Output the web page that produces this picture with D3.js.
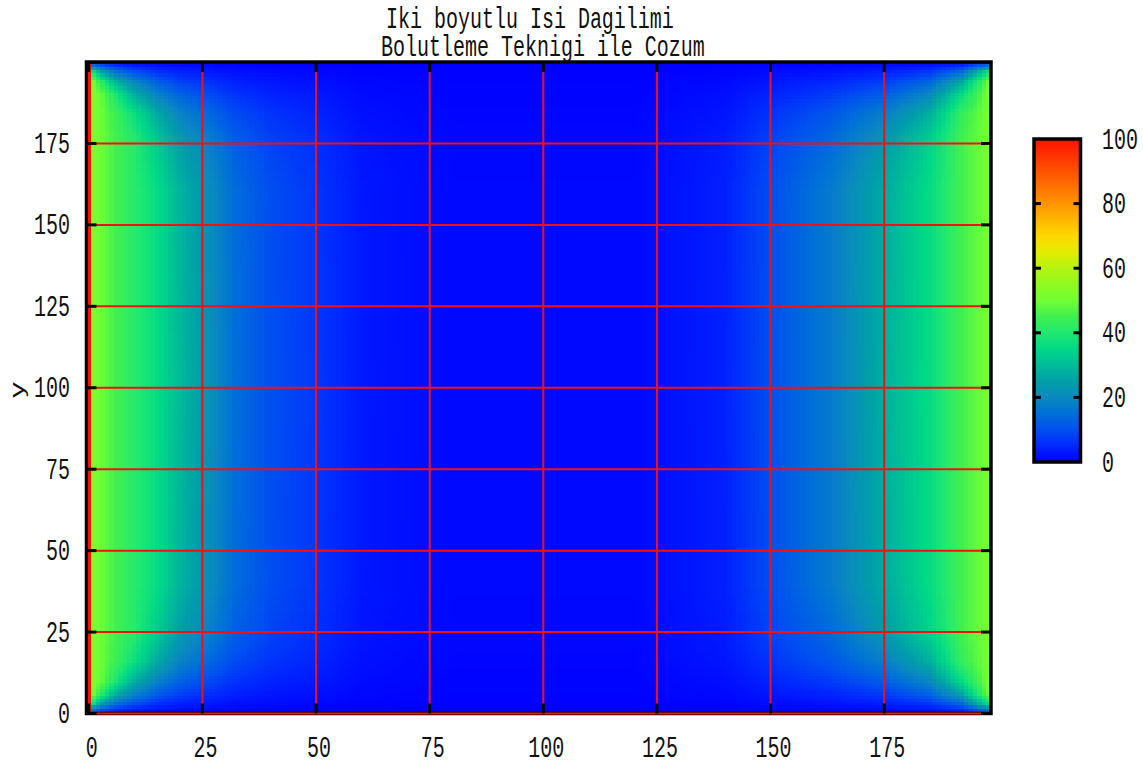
<!DOCTYPE html>
<html>
<head>
<meta charset="utf-8">
<script src="https://cdn.jsdelivr.net/npm/d3@7"></script>
<style>
  body { margin: 0; background: #fff; }
  svg { display: block; }
  text { font-family: 'Liberation Mono', 'DejaVu Sans Mono', monospace; font-size: 20px; fill: #111; }
</style>
</head>
<body>
<script>
const titleLines = ['Iki boyutlu Isi Dagilimi', 'Bolutleme Teknigi ile Cozum'];
const xTicks = [0, 25, 50, 75, 100, 125, 150, 175];
const yTicks = [0, 25, 50, 75, 100, 125, 150, 175];
const cbTicks = [0, 20, 40, 60, 80, 100];

// temperature at these columns / rows
const colX = [0, 1, 3, 6, 10, 15, 20, 25, 32, 40, 50, 60, 80, 120, 140, 150, 163, 175, 185, 192, 198];
const rowY = [0, 1, 3, 6, 10, 16, 25, 40, 100, 160, 175, 184, 190, 194, 197, 199, 200];
const temps = [
  [100, 0, 0, 0, 0, 0, 0, 0, 0, 0, 0, 0, 0, 0, 0, 0, 0, 0, 0, 0, 0],
  [100, 14, 9, 5, 3, 2, 1.4, 1.1, 0.7, 0.5, 0.3, 0.1, 0, 0, 0.2, 0.5, 0.8, 1.3, 2.2, 4.7, 14],
  [100, 36, 24, 15, 10, 6, 4, 3.2, 2, 1.4, 0.9, 0.4, 0.1, 0.1, 0.5, 1.4, 2.3, 3.8, 6.6, 14, 36],
  [100, 50, 40, 28, 19, 12, 8, 6.4, 4, 2.7, 1.9, 0.8, 0.3, 0.3, 1.1, 2.7, 4.5, 7.4, 13, 26, 49],
  [100, 52, 48, 39, 28, 19, 13, 10, 6.4, 4.3, 3, 1.3, 0.4, 0.4, 1.7, 4.3, 7.3, 12, 20, 36, 51],
  [100, 52, 49, 44, 37, 27, 19, 15, 9.5, 6.4, 4.4, 1.9, 0.6, 0.6, 2.5, 6.4, 11, 18, 28, 43, 51],
  [100, 52, 49, 45, 41, 33, 25, 20, 12.6, 8.4, 5.9, 2.5, 0.8, 0.8, 3.4, 8.4, 14, 24, 34, 45, 51],
  [100, 52, 49, 45, 41, 36, 29, 23, 14.6, 9.8, 6.8, 2.9, 1, 1, 3.9, 9.8, 17, 27, 36, 45, 51],
  [100, 52, 49, 45, 41, 36, 30, 24, 15, 10, 7, 3, 1, 1, 4, 10, 17, 28, 36, 45, 51],
  [100, 52, 49, 45, 41, 36, 29, 23, 14.6, 9.8, 6.8, 2.9, 1, 1, 3.9, 9.8, 17, 27, 36, 45, 51],
  [100, 52, 49, 45, 41, 33, 25, 20, 12.6, 8.4, 5.9, 2.5, 0.8, 0.8, 3.4, 8.4, 14, 24, 34, 45, 51],
  [100, 52, 49, 44, 37, 27, 19, 15, 9.5, 6.4, 4.4, 1.9, 0.6, 0.6, 2.5, 6.4, 11, 18, 28, 43, 51],
  [100, 52, 48, 39, 28, 19, 13, 10, 6.4, 4.3, 3, 1.3, 0.4, 0.4, 1.7, 4.3, 7.3, 12, 20, 36, 51],
  [100, 50, 40, 28, 19, 12, 8, 6.4, 4, 2.7, 1.9, 0.8, 0.3, 0.3, 1.1, 2.7, 4.5, 7.4, 13, 26, 49],
  [100, 36, 24, 15, 10, 6, 4, 3.2, 2, 1.4, 0.9, 0.4, 0.1, 0.1, 0.5, 1.4, 2.3, 3.8, 6.6, 14, 36],
  [100, 14, 9, 5, 3, 2, 1.4, 1.1, 0.7, 0.5, 0.3, 0.1, 0, 0, 0.2, 0.5, 0.8, 1.3, 2.2, 4.7, 14],
  [100, 0, 0, 0, 0, 0, 0, 0, 0, 0, 0, 0, 0, 0, 0, 0, 0, 0, 0, 0, 0],
];

const paletteStops = [0, 5, 10, 15, 20, 25, 30, 35, 40, 45, 50, 55, 60, 65, 70, 80, 90, 100];
const paletteColors = ['#0000ff', '#0028ff', '#0050f0', '#0070d8', '#0a88c0', '#00a0a8', '#00bc98',
  '#00d888', '#20e870', '#40f050', '#70ff34', '#90fa20', '#b4f410', '#e4ec00', '#ffd800',
  '#ff9400', '#ff5200', '#ff1000'];

const width = 1143;
const height = 766;
const nCols = 199;
const nRows = 201;
const stretch = 1.45; // tall narrow glyphs like the original terminal font

const svg = d3.select('body').append('svg')
  .attr('width', width)
  .attr('height', height);

const x = d3.scaleLinear().domain([-0.5, 198.5]).range([86.5, 991]);
const y = d3.scaleLinear().domain([0, 200]).range([713.5, 62]);
const color = d3.scaleLinear().domain(paletteStops).range(paletteColors).clamp(true);

// fractional position inside the table
const colIdx = d3.scaleLinear().domain(colX).range(d3.range(colX.length)).clamp(true);
const rowIdx = d3.scaleLinear().domain(rowY).range(d3.range(rowY.length)).clamp(true);

function tempAt(cx, cy) {
  const fi = colIdx(cx), fj = rowIdx(cy);
  const i0 = Math.min(Math.floor(fi), colX.length - 2), j0 = Math.min(Math.floor(fj), rowY.length - 2);
  const tx = fi - i0, ty = fj - j0;
  const a = temps[j0][i0] * (1 - tx) + temps[j0][i0 + 1] * tx;
  const b = temps[j0 + 1][i0] * (1 - tx) + temps[j0 + 1][i0 + 1] * tx;
  return a * (1 - ty) + b * ty;
}

// heat map: one canvas pixel per grid cell
const canvas = document.createElement('canvas');
canvas.width = nCols;
canvas.height = nRows;
const ctx = canvas.getContext('2d');
const img = ctx.createImageData(nCols, nRows);
for (let r = 0; r < nRows; r++) {
  const gy = 200 - r;
  for (let c = 0; c < nCols; c++) {
    const col = d3.rgb(color(tempAt(c, gy)));
    const k = (r * nCols + c) * 4;
    img.data[k] = col.r;
    img.data[k + 1] = col.g;
    img.data[k + 2] = col.b;
    img.data[k + 3] = 255;
  }
}
ctx.putImageData(img, 0, 0);

svg.append('clipPath').attr('id', 'plotClip')
  .append('rect')
  .attr('x', x(-0.5)).attr('y', y(200))
  .attr('width', x(198.5) - x(-0.5)).attr('height', y(0) - y(200));

svg.append('image')
  .attr('clip-path', 'url(#plotClip)')
  .attr('href', canvas.toDataURL())
  .attr('x', x(-0.5))
  .attr('y', y(200.5))
  .attr('width', x(198.5) - x(-0.5))
  .attr('height', y(-0.5) - y(200.5))
  .attr('preserveAspectRatio', 'none')
  .style('image-rendering', 'pixelated');

// border
svg.append('rect')
  .attr('x', x(-0.5)).attr('y', y(200))
  .attr('width', x(198.5) - x(-0.5)).attr('height', y(0) - y(200))
  .attr('fill', 'none')
  .attr('stroke', '#000')
  .attr('stroke-width', 3.5);

// grid
svg.append('g').selectAll('line')
  .data(xTicks).join('line')
  .attr('x1', (d) => x(d)).attr('x2', (d) => x(d))
  .attr('y1', y(0)).attr('y2', y(200))
  .attr('stroke', '#f51010')
  .attr('stroke-width', 2);

svg.append('g').selectAll('line')
  .data(yTicks).join('line')
  .attr('x1', x(-0.5)).attr('x2', x(198.5))
  .attr('y1', (d) => y(d)).attr('y2', (d) => y(d))
  .attr('stroke', '#f51010')
  .attr('stroke-width', 2);

// tick marks (inward, mirrored)
const tickLen = 10;
const ticks = svg.append('g').attr('stroke', '#000').attr('stroke-width', 3);
xTicks.forEach((d) => {
  ticks.append('line').attr('x1', x(d)).attr('x2', x(d)).attr('y1', y(0)).attr('y2', y(0) - tickLen);
  ticks.append('line').attr('x1', x(d)).attr('x2', x(d)).attr('y1', y(200)).attr('y2', y(200) + tickLen);
});
yTicks.forEach((d) => {
  ticks.append('line').attr('x1', x(-0.5)).attr('x2', x(-0.5) + tickLen).attr('y1', y(d)).attr('y2', y(d));
  ticks.append('line').attr('x1', x(198.5)).attr('x2', x(198.5) - tickLen).attr('y1', y(d)).attr('y2', y(d));
});

function addText(px, py, str, anchor) {
  return svg.append('text')
    .attr('transform', `translate(${px},${py}) scale(1,${stretch})`)
    .attr('text-anchor', anchor)
    .text(str);
}

xTicks.forEach((d) => addText(x(d) + 3, 757, d, 'middle'));
yTicks.forEach((d) => addText(70, y(d) + 9.5, d, 'end'));

addText(386, 28, titleLines[0], 'start');
addText(381, 56, titleLines[1], 'start');

svg.append('text')
  .attr('transform', `translate(24,390) rotate(-90) scale(${stretch},1)`)
  .attr('text-anchor', 'middle')
  .text('y');

// colour box
const cb = d3.scaleLinear().domain([0, 100]).range([462, 139]);
const cbX0 = 1034, cbX1 = 1080.5;
const grad = svg.append('defs').append('linearGradient')
  .attr('id', 'cbGrad')
  .attr('x1', 0).attr('y1', 1).attr('x2', 0).attr('y2', 0);
grad.selectAll('stop')
  .data(paletteStops).join('stop')
  .attr('offset', (d) => d / 100)
  .attr('stop-color', (d) => color(d));

svg.append('rect')
  .attr('x', cbX0).attr('y', cb(100))
  .attr('width', cbX1 - cbX0).attr('height', cb(0) - cb(100))
  .attr('fill', 'url(#cbGrad)')
  .attr('stroke', '#000')
  .attr('stroke-width', 3.5);

const cbTickG = svg.append('g').attr('stroke', '#000').attr('stroke-width', 3);
cbTicks.filter((d) => d > 0 && d < 100).forEach((d) => {
  cbTickG.append('line').attr('x1', cbX0).attr('x2', cbX0 + 7).attr('y1', cb(d)).attr('y2', cb(d));
  cbTickG.append('line').attr('x1', cbX1).attr('x2', cbX1 - 7).attr('y1', cb(d)).attr('y2', cb(d));
});
cbTicks.forEach((d) => addText(1102, cb(d) + 9.5, d, 'start'));
</script>
</body>
</html>
